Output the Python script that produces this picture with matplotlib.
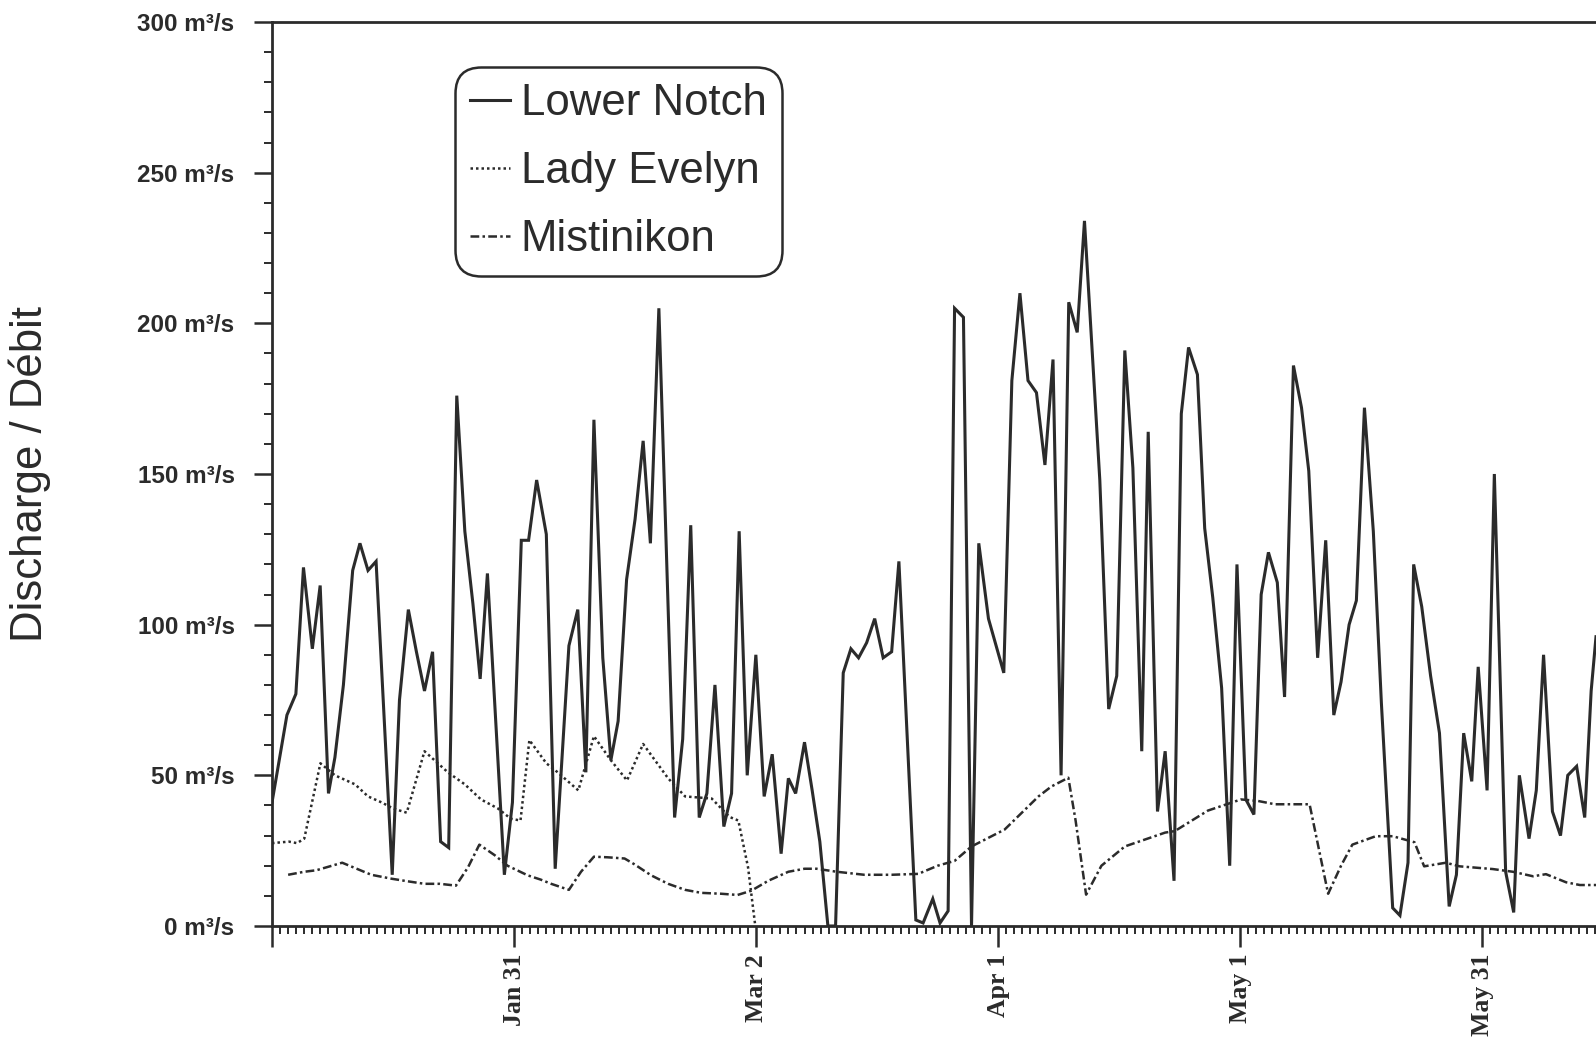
import matplotlib
matplotlib.use("Agg")
import matplotlib.pyplot as plt
from matplotlib.ticker import MultipleLocator, FixedLocator

# ---- data (day of year, discharge m3/s) ----
ln_day = [1.0, 2.85, 3.96, 4.9, 6.0, 6.97, 8.0, 8.8, 9.85, 11.0, 11.9, 12.9, 13.9, 15.9, 16.8,
          17.9, 18.9, 19.9, 20.9, 21.9, 22.9, 23.9, 24.9, 25.9, 26.8, 27.7, 29.8, 30.8, 31.9,
          32.8, 33.8, 35.0, 36.1, 37.8, 38.9, 39.9, 40.9, 42.0, 43.0, 43.9, 44.95, 46.0, 47.0,
          47.9, 48.95, 50.9, 51.9, 52.9, 53.95, 54.9, 55.9, 57.0, 57.96, 58.9, 59.9, 60.97,
          62.0, 63.0, 64.1, 65.0, 65.9, 67.0, 67.95, 68.9, 69.9, 70.85, 71.8, 72.75, 73.7,
          74.7, 75.7, 76.75, 77.8, 78.7, 80.8, 81.7, 82.9, 83.8, 84.8, 85.6, 86.7, 87.7, 88.6,
          89.8, 91.7, 92.7, 93.7, 94.7, 95.75, 96.8, 97.8, 98.8, 99.75, 100.8, 101.7, 103.6,
          104.7, 105.7, 106.7, 107.7, 108.8, 109.6, 110.75, 111.7, 112.8, 113.7, 114.6, 115.7,
          116.6, 117.6, 118.7, 119.7, 120.6, 121.7, 122.7, 123.6, 124.5, 125.6, 126.5, 127.6,
          128.6, 129.5, 130.6, 131.6, 132.6, 133.5, 134.5, 135.4, 136.4, 137.5, 138.5, 139.9,
          140.8, 141.8, 142.5, 143.5, 144.6, 145.7, 146.9, 147.8, 148.7, 149.7, 150.5, 151.6,
          152.5, 153.9, 154.9, 155.6, 156.8, 157.7, 158.6, 159.7, 160.7, 161.6, 162.7, 163.7,
          164.5, 165.1]
ln_val = [41, 70, 77, 119, 92, 113, 44, 56, 80, 118, 127, 118, 121, 17, 75,
          105, 91, 78, 91, 28, 26, 176, 131, 107, 82, 117, 17, 41, 128,
          128, 148, 130, 19, 93, 105, 51, 168, 89, 55, 68, 115, 135, 161,
          127, 205, 36, 62, 133, 36, 44, 80, 33, 44, 131, 50, 90,
          43, 57, 24, 49, 44, 61, 45, 28, 0, 0, 84, 92, 89,
          94, 102, 89, 91, 121, 2, 1, 9, 1, 5, 205, 202, 0, 127,
          102, 84, 181, 210, 181, 177, 153, 188, 50, 207, 197, 234, 148,
          72, 83, 191, 152, 58, 164, 38, 58, 15, 170, 192, 183,
          132, 109, 79, 20, 120, 42, 37, 110, 124, 114, 76, 186,
          172, 151, 89, 128, 70, 81, 100, 108, 172, 131, 74, 6,
          3.5, 21, 120, 106, 83, 64, 6.5, 17, 64, 48, 86, 45,
          150, 18, 4.5, 50, 29, 45, 90, 38, 30, 50, 53, 36,
          78, 96]

le_day = [1, 3.1, 4.1, 5.0, 7.0, 8.8, 11.3, 12.9, 14.6, 16, 17.7, 19.9, 22.8, 24.9, 26.9,
          29, 30.6, 31.8, 32.9, 35.0, 36.1, 38.97, 40.9, 43, 45, 47, 50.1, 52.2, 55.5, 57.7,
          58.8, 60, 60.9]
le_val = [27.5, 28, 27.5, 29, 54, 50, 47, 43, 41, 39, 37.6, 58, 51, 47, 42,
          39, 35.6, 35, 61.7, 54, 51.7, 45, 63, 55, 48.3, 60.4, 49, 43, 42.3, 36.2,
          35, 19.5, 0]

mi_day = [3, 5, 6.5, 9.7, 11.5, 13.3, 15.8, 17.9, 19.9, 21.8, 23.8, 25.3, 26.7, 28.6, 30.2,
          32.7, 34.3, 35.6, 37.8, 39.3, 40.9, 42.6, 44.7, 45.9, 48, 50.1, 52.2, 54.2, 56.7,
          58.7, 60.4, 62.5, 65, 67, 68.5, 71, 74.4, 77.8, 81.1, 83.5, 85.6, 87.7, 91.8, 93.9,
          96, 97.6, 99.7, 100.6, 101.9, 103.8, 106.7, 111.7, 112.9, 117, 121.1, 123.2, 125.3,
          129.6, 131.9, 133.5, 134.9, 137.8, 139.9, 142.6, 143.8, 146.5, 148.2, 152.3, 154.8,
          157.3, 158.9, 161.4, 163.1, 165.1]
mi_val = [17, 18, 18.5, 21, 19, 17, 15.7, 14.8, 14, 14, 13.4, 19.5, 27, 23.5, 20,
          16.8, 15.4, 14, 12, 18, 23, 22.8, 22.4, 20.5, 16.8, 14, 12, 11, 10.7,
          10.3, 11.7, 15, 18, 19, 19, 18, 17, 17, 17.3, 20, 21.6, 26.4, 32, 37.5,
          43, 46.3, 49.2, 35, 10.4, 20, 26.4, 31, 31.5, 38.3, 42, 41.5, 40.4,
          40.4, 10.7, 20, 27, 29.8, 29.8, 27.8, 19.8, 21, 19.8, 18.9, 18,
          16.5, 17.2, 14.5, 13.6, 13.6]

series_names = ["Lower Notch", "Lady Evelyn", "Mistinikon"]
xtick_days = [1, 31, 61, 91, 121, 151]
xtick_labels = ["", "Jan 31", "Mar 2", "Apr 1", "May 1", "May 31"]
ytick_vals = [0, 50, 100, 150, 200, 250, 300]
ytick_labels = [f"{v} m³/s" for v in ytick_vals]

ink = "#2b2b2b"

fig = plt.figure(figsize=(15.96, 10.37), dpi=100)
ax = fig.add_axes([272/1596, 1-926/1037, 1-272/1596, (926-22)/1037])

ax.plot(ln_day, ln_val, color=ink, lw=2.2, label=series_names[0], solid_joinstyle="miter")
ax.plot(le_day, le_val, color=ink, lw=1.8, linestyle=(0, (1, 1.2)), label=series_names[1])
ax.plot(mi_day, mi_val, color=ink, lw=1.8, linestyle=(0, (3.5, 1.3, 1, 1.3)), label=series_names[2])

ax.set_xlim(1, 165.1)
ax.set_ylim(0, 300)

ax.spines["right"].set_visible(False)
for s in ["left", "bottom", "top"]:
    ax.spines[s].set_linewidth(2.0)
    ax.spines[s].set_color(ink)

ax.xaxis.set_major_locator(FixedLocator(xtick_days))
ax.set_xticklabels(xtick_labels, rotation=90, fontfamily="Liberation Serif",
                   fontweight="bold", fontsize=18.5, color=ink)
ax.xaxis.set_minor_locator(MultipleLocator(1))
ax.tick_params(axis="x", which="major", direction="out", length=15, width=1.8, pad=5, colors=ink)
ax.tick_params(axis="x", which="minor", direction="out", length=6, width=1.4, colors=ink)

ax.set_yticks(ytick_vals)
ax.set_yticklabels(ytick_labels, fontfamily="Liberation Sans", fontsize=17.5,
                   fontweight="semibold", color=ink)
ax.yaxis.set_minor_locator(MultipleLocator(10))
ax.tick_params(axis="y", which="major", direction="out", length=13, width=1.8, pad=14, colors=ink)
ax.tick_params(axis="y", which="minor", direction="out", length=6, width=1.4, colors=ink)

fig.text(30/1596, 1-474/1037, "Discharge / Débit", rotation=90, ha="center", va="center",
         fontfamily="Liberation Sans", fontsize=31.5, color=ink)

leg = ax.legend(loc="upper left", bbox_to_anchor=(0.138, 0.950), borderaxespad=0,
                prop={"family": "Liberation Sans", "size": 31.5}, handlelength=0.9,
                handletextpad=0.25, labelspacing=0.62, borderpad=0.36,
                fancybox=True, framealpha=1, edgecolor=ink)
leg.get_frame().set_linewidth(1.8)
leg.get_frame().set_boxstyle("round,pad=0,rounding_size=0.6")
for t in leg.get_texts():
    t.set_color(ink)

fig.savefig("out.png", dpi=100)
